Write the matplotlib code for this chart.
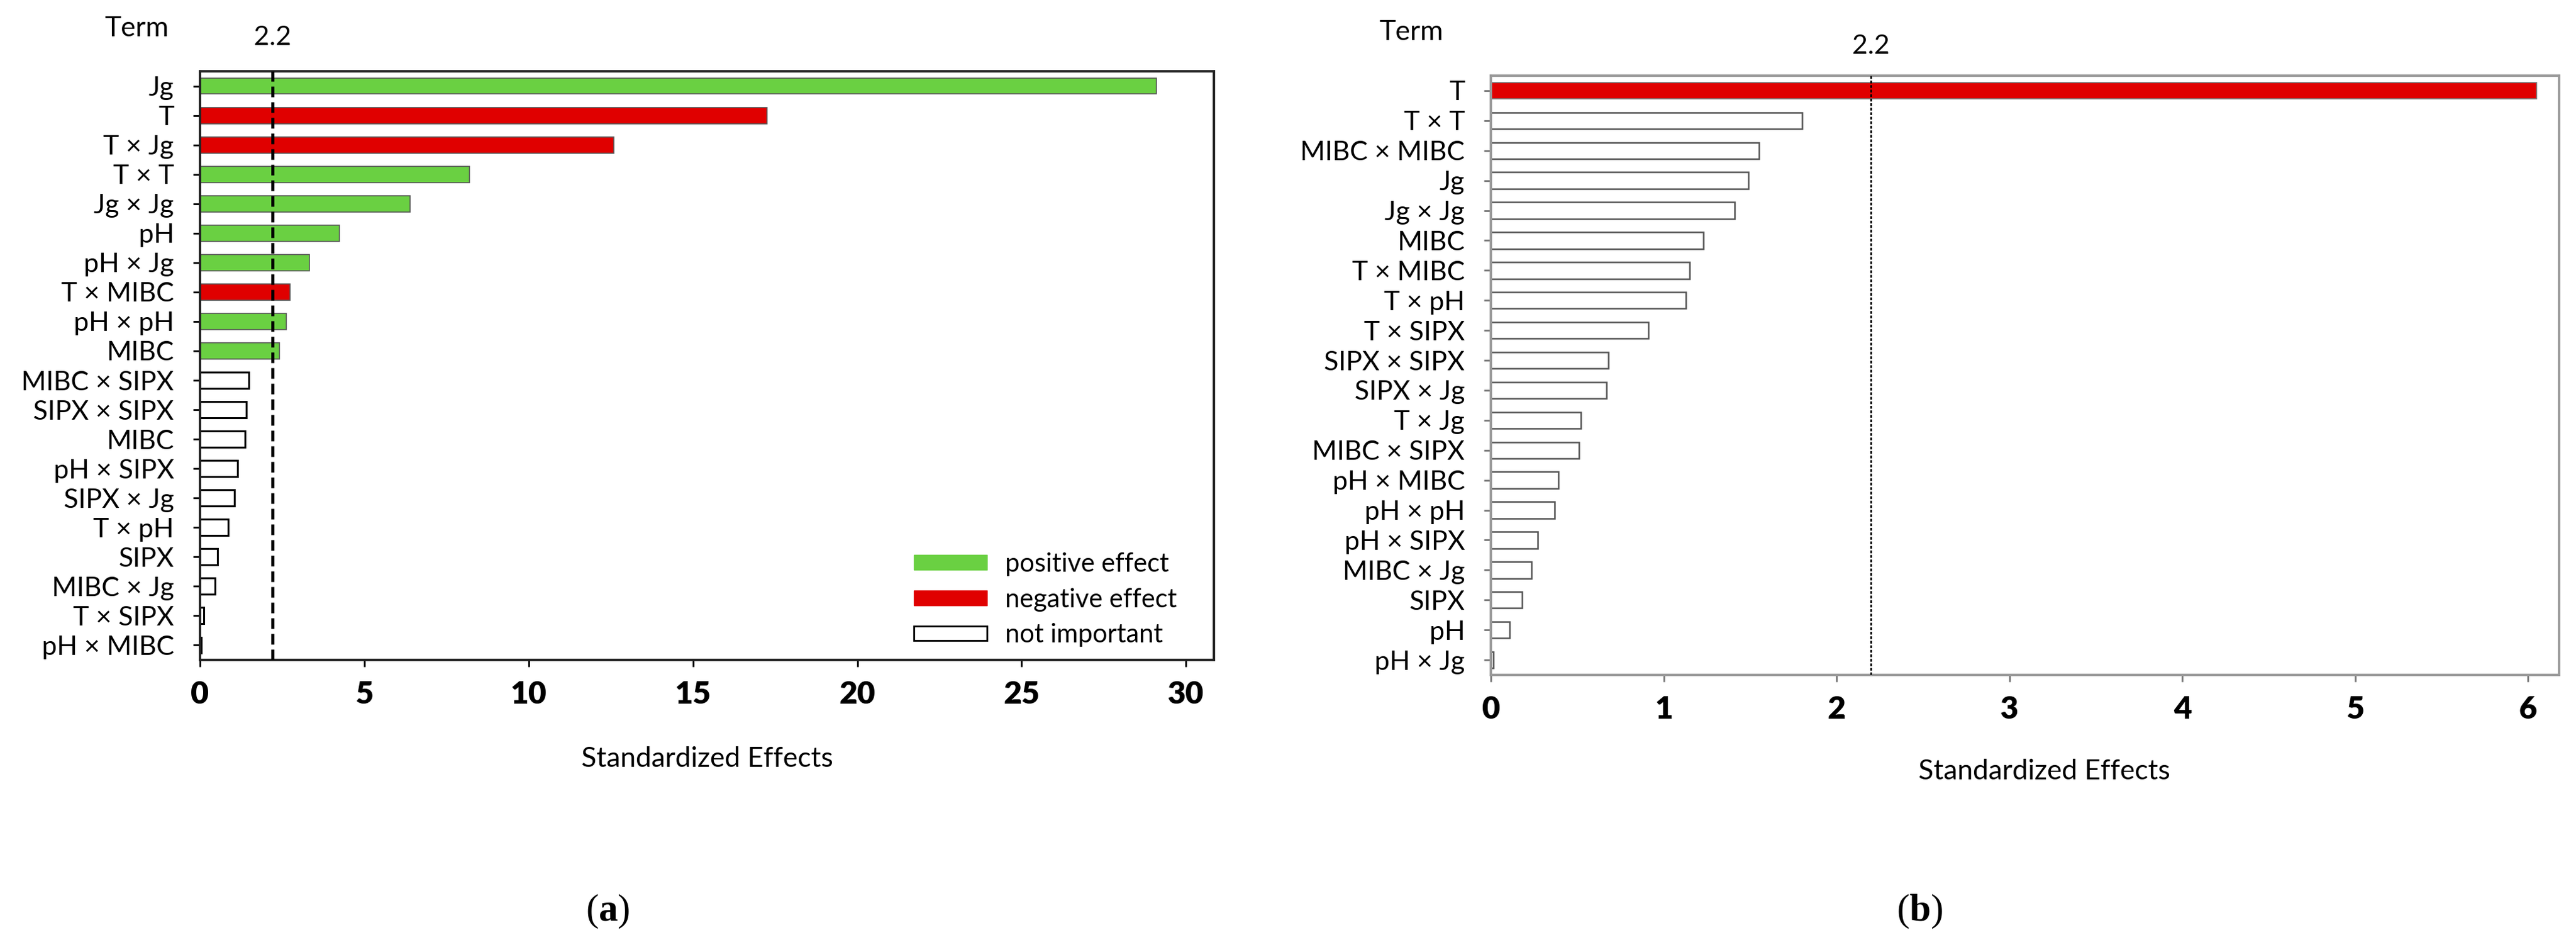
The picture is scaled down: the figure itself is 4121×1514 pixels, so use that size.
import matplotlib.pyplot as plt
import matplotlib.transforms as mtransforms
from matplotlib.patches import Patch
import numpy as np

plt.rcParams['font.family'] = ['Lato', 'DejaVu Sans']

# panel (a) terms, top to bottom
terms_a = ['Jg', 'T', 'T × Jg', 'T × T', 'Jg × Jg', 'pH', 'pH × Jg', 'T × MIBC',
           'pH × pH', 'MIBC', 'MIBC × SIPX', 'SIPX × SIPX', 'MIBC', 'pH × SIPX',
           'SIPX × Jg', 'T × pH', 'SIPX', 'MIBC × Jg', 'T × SIPX', 'pH × MIBC']
effects_a = [29.1, 17.25, 12.6, 8.2, 6.4, 4.25, 3.33, 2.73, 2.63, 2.42,
             1.48, 1.41, 1.37, 1.14, 1.05, 0.85, 0.53, 0.46, 0.12, 0.03]
kind_a = ['pos', 'neg', 'neg', 'pos', 'pos', 'pos', 'pos', 'neg', 'pos', 'pos'] + ['ns'] * 10

# panel (b) terms, top to bottom
terms_b = ['T', 'T × T', 'MIBC × MIBC', 'Jg', 'Jg × Jg', 'MIBC', 'T × MIBC', 'T × pH',
           'T × SIPX', 'SIPX × SIPX', 'SIPX × Jg', 'T × Jg', 'MIBC × SIPX', 'pH × MIBC',
           'pH × pH', 'pH × SIPX', 'MIBC × Jg', 'SIPX', 'pH', 'pH × Jg']
effects_b = [6.05, 1.80, 1.55, 1.49, 1.41, 1.23, 1.15, 1.13, 0.91, 0.68,
             0.67, 0.52, 0.51, 0.39, 0.37, 0.27, 0.235, 0.18, 0.11, 0.015]
kind_b = ['neg'] + ['ns'] * 19

cutoff = 2.2
xticks_a = [0, 5, 10, 15, 20, 25, 30]
xticks_b = [0, 1, 2, 3, 4, 5, 6]

GREEN = '#6ad042'
RED = '#e00000'

W, H = 4121, 1514
fig = plt.figure(figsize=(W / 100, H / 100), dpi=100)


def box(l, t, r, b):
    return [l / W, 1 - b / H, (r - l) / W, (b - t) / H]


def draw(ax, terms, effects, kinds, xlim, xticks, spine_col, bar_edge, ns_edge, ns_lw,
         line_style, line_lw, tick_col, label_y):
    y = np.arange(len(terms))
    for yi, val, k in zip(y, effects, kinds):
        if k == 'pos':
            ax.barh(yi, val, height=0.55, color=GREEN, edgecolor=bar_edge, linewidth=1.2)
        elif k == 'neg':
            ax.barh(yi, val, height=0.55, color=RED, edgecolor=bar_edge, linewidth=1.2)
        else:
            ax.barh(yi, val, height=0.55, color='white', edgecolor=ns_edge, linewidth=ns_lw)
    ax.axvline(cutoff, color='black', linestyle=line_style, linewidth=line_lw, zorder=3)
    ax.set_xlim(*xlim)
    ax.set_ylim(len(terms) - 0.5, -0.5)
    ax.set_yticks(y)
    ax.set_yticklabels(terms, fontsize=31)
    ax.set_xticks(xticks)
    ax.set_xticklabels([str(t) for t in xticks], fontsize=36, fontweight='heavy')
    ax.tick_params(axis='y', length=8, width=2, color=tick_col, pad=22)
    ax.tick_params(axis='x', length=8, width=2, color=tick_col, pad=16)
    for s in ax.spines.values():
        s.set_color(spine_col)
        s.set_linewidth(2.8)
    ax.text(cutoff, label_y, '2.2', fontsize=31, ha='center', va='center',
            transform=mtransforms.blended_transform_factory(ax.transData, ax.transAxes))


ax_a = fig.add_axes(box(320, 114, 1942, 1055))
draw(ax_a, terms_a, effects_a, kind_a, (0, 30.85), xticks_a, '#222222', '#555555',
     'black', 2.2, (0, (3.4, 1.6)), 3.6, 'black', 1.0574)

ax_b = fig.add_axes(box(2385, 121, 4094, 1079))
draw(ax_b, terms_b, effects_b, kind_b, (0, 6.18), xticks_b, '#9a9a9a', '#777777',
     '#555555', 1.8, (0, (1.6, 1.0)), 2.0, '#777777', 1.049)

# legend for panel (a)
handles = [Patch(facecolor=GREEN, edgecolor=GREEN, label='positive effect'),
           Patch(facecolor=RED, edgecolor=RED, label='negative effect'),
           Patch(facecolor='white', edgecolor='black', linewidth=2, label='not important')]
ax_a.legend(handles=handles, loc='upper left', bbox_to_anchor=(1441 / W, 1 - 862 / H),
            bbox_transform=fig.transFigure, frameon=False, fontsize=30, borderpad=0,
            handlelength=2.8, handleheight=0.5, handletextpad=0.7, labelspacing=0.45)

# header and axis titles
fig.text(270 / W, 1 - 45 / H, 'Term', fontsize=32, ha='right', va='center')
fig.text(2309 / W, 1 - 51 / H, 'Term', fontsize=32, ha='right', va='center')
fig.text(1131 / W, 1 - 1213 / H, 'Standardized Effects', fontsize=32, ha='center', va='center')
fig.text(3270 / W, 1 - 1233 / H, 'Standardized Effects', fontsize=32, ha='center', va='center')

# panel letters
plt.rcParams['mathtext.fontset'] = 'custom'
plt.rcParams['mathtext.bf'] = 'Liberation Serif:bold'
fig.text(972 / W, 1 - 1457 / H, r'($\mathbf{a}$)', fontsize=44, ha='center', va='center',
         family='Liberation Serif')
fig.text(3071 / W, 1 - 1457 / H, r'($\mathbf{b}$)', fontsize=44, ha='center', va='center',
         family='Liberation Serif')

fig.savefig('out.png', dpi=100, facecolor='white')
